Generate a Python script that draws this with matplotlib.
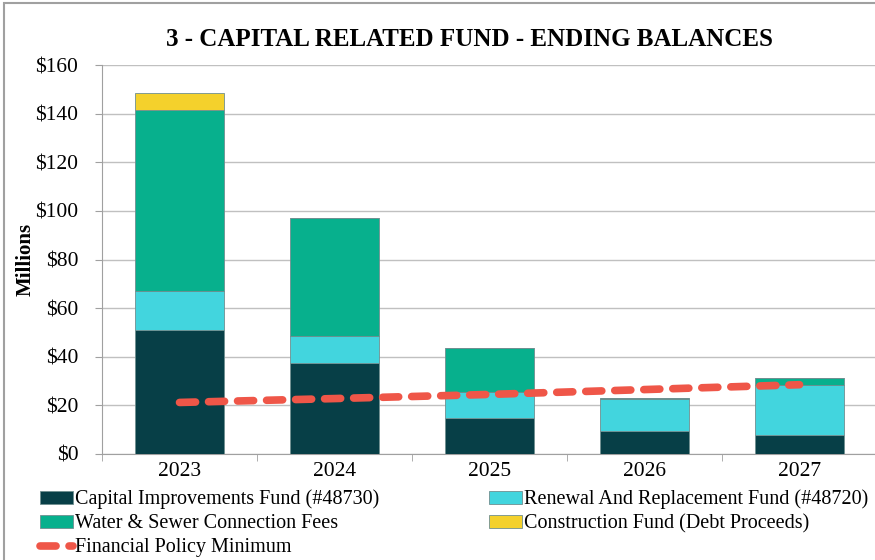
import numpy as np
import matplotlib.pyplot as plt
from matplotlib.patches import Rectangle

plt.rcParams['font.family'] = ['Liberation Serif', 'DejaVu Serif']

######### Data (millions) ######################
years = ['2023', '2024', '2025', '2026', '2027']
capital_improvements = [51, 37.5, 15, 9.5, 8]      # Capital Improvements Fund (#48730)
renewal_replacement = [16, 11, 10.5, 13, 20.5]     # Renewal And Replacement Fund (#48720)
connection_fees = [74.5, 48.5, 18, 0.5, 2.8]       # Water & Sewer Connection Fees
construction_fund = [7, 0, 0, 0, 0]                # Construction Fund (Debt Proceeds)
policy_minimum = [21.2, 22.8, 24.5, 26.5, 28.5]    # Financial Policy Minimum

colors = ['#073F47', '#42D5DE', '#07B08D', '#F4D12C']
line_color = '#EF5648'

fig = plt.figure(figsize=(8.75, 5.6), dpi=100)
ax = fig.add_axes([0.1166, 0.1893, 0.8857, 0.6946])

x = np.arange(len(years))
series = [capital_improvements, renewal_replacement, connection_fees, construction_fund]
labels = ['Capital Improvements Fund (#48730)', 'Renewal And Replacement Fund (#48720)',
          'Water & Sewer Connection Fees', 'Construction Fund (Debt Proceeds)']
bottom = np.zeros(len(years))
handles = []
for vals, col, lab in zip(series, colors, labels):
    vals = np.array(vals, dtype=float)
    b = ax.bar(x, vals, 0.58, bottom=bottom, color=col, edgecolor='#6f8f90',
               linewidth=0.6, label=lab, zorder=3)
    handles.append(b)
    bottom += vals

line, = ax.plot(x, policy_minimum, color=line_color, lw=5.5, ls=(0, (2.1, 1.7)),
                dash_capstyle='round', solid_capstyle='round', zorder=4,
                label='Financial Policy Minimum')

ax.set_xlim(-0.5, len(years) - 0.5)
ax.set_ylim(0, 160)
ax.set_yticks(np.arange(0, 161, 20))
ax.set_yticklabels(['$%d' % v for v in range(0, 161, 20)])
ax.set_xticks(x)
ax.set_xticklabels(years)
ax.set_xticks(np.arange(-0.5, len(years), 1), minor=True)
ax.tick_params(axis='x', which='major', length=0, pad=6, labelsize=15.5)
ax.tick_params(axis='x', which='minor', length=5, color='#a0a0a0')
ax.tick_params(axis='y', length=5, color='#a0a0a0', labelsize=15.5, pad=12)
ax.grid(axis='y', color='#c0c0c0', lw=1, zorder=0)
for s in ['top', 'right']:
    ax.spines[s].set_visible(False)
ax.spines['left'].set_color('#a0a0a0')
ax.spines['bottom'].set_color('#a0a0a0')

ax.set_ylabel('Millions', fontsize=15, fontweight='bold', labelpad=0)
fig.text(0.537, 0.929, '3 - CAPITAL RELATED FUND - ENDING BALANCES', ha='center',
         va='center', fontsize=18, fontweight='bold')

order = [handles[0], handles[2], line, handles[1], handles[3]]
fig.legend(handles=order, labels=[h.get_label() for h in order], ncol=2,
           loc='upper left', bbox_to_anchor=(0.036, 0.14), frameon=False,
           fontsize=14.5, handlelength=1.65, handleheight=0.6, handletextpad=0.1,
           columnspacing=5.45, labelspacing=0.25, borderaxespad=0)

# outer frame
fig.patches.append(Rectangle((0.004, -0.01), 1.2, 1.005, transform=fig.transFigure,
                             fill=False, edgecolor='#a0a0a0', lw=1.5))

fig.savefig('out.png', dpi=100)
